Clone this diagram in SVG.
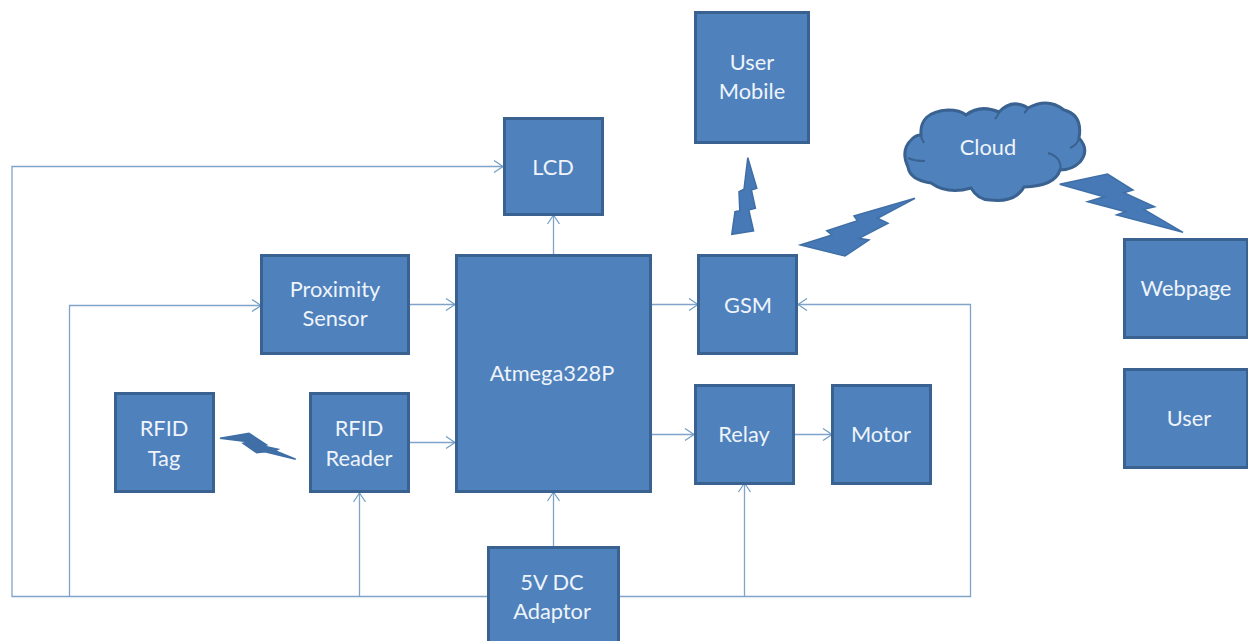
<svg xmlns="http://www.w3.org/2000/svg" width="1248" height="641" viewBox="0 0 1248 641">
<defs>
<marker id="arr" markerUnits="userSpaceOnUse" markerWidth="12" markerHeight="14" refX="10" refY="7" orient="auto"><path d="M1 1 L10 7 L1 13" fill="none" stroke="#6f9cc4" stroke-width="1.2"/></marker>
</defs>
<style>
.b{fill:#4f81bd;stroke:#3a6290;stroke-width:3}
.t{font-family:"Lato","Open Sans",sans-serif;font-size:21.800px;fill:#eef4fa;text-anchor:middle}
.c{fill:none;stroke:#7fa3c9;stroke-width:1.3}
.z{fill:#4679b6;stroke:#3f6fa6;stroke-width:1.5;stroke-linejoin:miter}
</style>
<rect width="1248" height="641" fill="#fff"/>
<g id="connectors">
<path class="c" d="M488 596.500H12V166.500H503" marker-end="url(#arr)"/>
<path class="c" d="M69.500 596V305.500H261" marker-end="url(#arr)"/>
<path class="c" d="M359.500 596V493" marker-end="url(#arr)"/>
<path class="c" d="M619 596.500H970.500V304.500H798" marker-end="url(#arr)"/>
<path class="c" d="M744.500 596V483" marker-end="url(#arr)"/>
<path class="c" d="M553.500 547V492" marker-end="url(#arr)"/>
<path class="c" d="M553.500 255V215" marker-end="url(#arr)"/>
<path class="c" d="M408 304.500H455" marker-end="url(#arr)"/>
<path class="c" d="M408 442.500H455" marker-end="url(#arr)"/>
<path class="c" d="M651 304.500H698" marker-end="url(#arr)"/>
<path class="c" d="M651 434.500H694" marker-end="url(#arr)"/>
<path class="c" d="M793 434.500H832" marker-end="url(#arr)"/>
</g>
<g id="lcd"><rect class="b" x="504.500" y="118.500" width="98" height="96"/><text class="t" x="553" y="175">LCD</text></g>
<g id="user-mobile"><rect class="b" x="695.500" y="12.500" width="113" height="130"/><text class="t" x="752" y="70">User</text><text class="t" x="752" y="99">Mobile</text></g>
<g id="proximity"><rect class="b" x="261.500" y="255.500" width="147" height="98"/><text class="t" x="335" y="297">Proximity</text><text class="t" x="335" y="326">Sensor</text></g>
<g id="atmega"><rect class="b" x="456.500" y="255.500" width="194" height="236"/><text class="t" x="552" y="381">Atmega328P</text></g>
<g id="gsm"><rect class="b" x="698.500" y="255.500" width="98" height="98"/><text class="t" x="748" y="313">GSM</text></g>
<g id="relay"><rect class="b" x="695.500" y="385.500" width="98" height="98"/><text class="t" x="744" y="442">Relay</text></g>
<g id="motor"><rect class="b" x="832.500" y="385.500" width="98" height="98"/><text class="t" x="881" y="442">Motor</text></g>
<g id="rfid-tag"><rect class="b" x="115.500" y="393.500" width="98" height="98"/><text class="t" x="164" y="436">RFID</text><text class="t" x="164" y="466">Tag</text></g>
<g id="rfid-reader"><rect class="b" x="310.500" y="393.500" width="98" height="98"/><text class="t" x="359" y="436">RFID</text><text class="t" x="359" y="466">Reader</text></g>
<g id="adaptor"><rect class="b" x="488.500" y="547.500" width="130" height="100"/><text class="t" x="552" y="590">5V DC</text><text class="t" x="552" y="619">Adaptor</text></g>
<g id="webpage"><rect class="b" x="1124.500" y="239.500" width="123" height="98"/><text class="t" x="1186" y="296">Webpage</text></g>
<g id="user"><rect class="b" x="1124.500" y="369.500" width="123" height="98"/><text class="t" x="1189" y="426">User</text></g>
<g id="cloud">
<path class="b" d="M921 135Q919 112 948 110Q960 110 966 115Q980 104 999 112Q1012 98 1028 108Q1048 97 1064 110Q1083 115 1079 138Q1090 150 1080 162Q1072 170 1060 170Q1055 186 1024 187Q1015 203 990 200Q978 200 971 188Q948 195 931 183Q910 180 908 167Q900 150 912 139Q916 135 921 135Z"/>
<path d="M1048 153C1058 156 1062 163 1060 170M1079 138C1078 142 1075 146 1070 148M908 158C912 160 920 161 925 161M921 135C921 138 922 140 924 143M999 112C998 115 997 117 995 119M1028 108C1027 110 1026 112 1024 113" fill="none" stroke="#3a6290" stroke-width="2"/>
<text class="t" x="988" y="155">Cloud</text>
</g>
<g id="bolt-mobile"><path class="z" d="M747.800 157.700L756.800 188.300L751.400 190L755.400 208.300L748.800 210L753.600 231L731.800 234.300L735 211.700L739.800 210.700L739 191.700L744 189.300Z"/></g>
<g id="bolt-gsm"><path class="z" d="M915 198.300L854 216L857.500 220.700L826.700 230.700L832 235L800.300 245L845 256L869 240L859 238.300L888 223.300L877.500 218.300Z"/></g>
<g id="bolt-web"><path class="z" d="M1059.700 184.300L1107.500 174L1133 190L1123.800 192.700L1154.600 206.700L1143.800 209.300L1183 232.300L1116.600 215L1125.600 211.700L1087.600 201.700L1104 196.700Z"/></g>
<g id="bolt-rfid"><path class="z" style="fill:#3f6fa6" d="M220 438.300L249 433.300L266.700 445L263 446L278 449.300L275 450.700L295.700 459.300L265 451.700L256.700 452.700L243 443.300L248 441.700Z"/></g>
</svg>
